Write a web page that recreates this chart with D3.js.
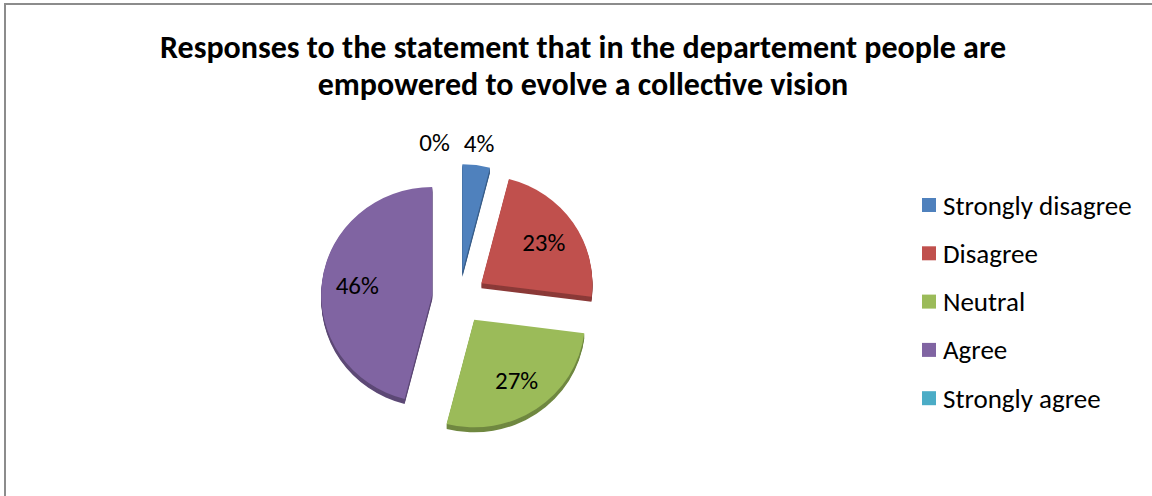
<!DOCTYPE html>
<html>
<head>
<meta charset="utf-8">
<script src="https://cdn.jsdelivr.net/npm/d3@7"></script>
<style>
  html, body { margin: 0; padding: 0; background: #fff; }
  svg { display: block; }
  text { font-family: Carlito, Lato, "Open Sans", sans-serif; fill: #000; }
</style>
</head>
<body>
<svg id="chart" width="1152" height="496"></svg>
<script>
// Survey responses (percent of respondents)
const categories = ["Strongly disagree", "Disagree", "Neutral", "Agree", "Strongly agree"];
const shares = [4, 23, 27, 46, 0];
const sliceColors = ["#4F81BD", "#C0504D", "#9BBB59", "#8064A2", "#4BACC6"];
const titleLines = [
  "Responses to the statement that in the departement people are",
  "empowered to evolve a collective vision"
];

const W = 1152, H = 496;
const svg = d3.select("#chart");

// Frame (right and bottom edges fall outside the view)
svg.append("rect")
  .attr("x", 5).attr("y", 4)
  .attr("width", W + 10).attr("height", H + 10)
  .attr("fill", "#fff")
  .attr("stroke", "#8c8c8c").attr("stroke-width", 2);

// Title
svg.append("g").selectAll("text")
  .data(titleLines)
  .join("text")
  .attr("x", 583)
  .attr("y", (d, i) => 58 + i * 37)
  .attr("text-anchor", "middle")
  .attr("font-weight", "bold")
  .attr("font-size", 32)
  .text(d => d);

// Pie geometry
const cx = 459, cy = 298, R = 111, ky = 0.97, explode = 27, depth = 5;

const data = categories.map((c, i) => ({ category: c, value: shares[i], color: sliceColors[i] }));
const pie = d3.pie().sort(null).value(d => d.value).startAngle(0).endAngle(2 * Math.PI);
const arcs = pie(data);
const arc = d3.arc().innerRadius(0).outerRadius(R);

function apex(a) {
  const mid = (a.startAngle + a.endAngle) / 2;
  return [cx + explode * Math.sin(mid), cy - explode * Math.cos(mid) * ky];
}

const slices = svg.append("g").selectAll("g.slice")
  .data(arcs.filter(a => a.value > 0))
  .join("g")
  .attr("class", "slice");

// Extruded side: stacked copies in a darker tone beneath the top face
slices.each(function (a) {
  const g = d3.select(this);
  const [ax, ay] = apex(a);
  const side = d3.color(a.data.color).darker(0.9);
  for (let k = depth; k >= 1; k--) {
    g.append("path")
      .attr("transform", `translate(${ax},${ay + k}) scale(1,${ky})`)
      .attr("d", arc(a))
      .attr("fill", side);
  }
  g.append("path")
    .attr("transform", `translate(${ax},${ay}) scale(1,${ky})`)
    .attr("d", arc(a))
    .attr("fill", a.data.color);
});

// Data labels: inside for large slices, outside for small ones
const fmt = v => `${v}%`;
const labels = arcs.map(a => {
  const mid = (a.startAngle + a.endAngle) / 2;
  const [ax, ay] = apex(a);
  const inside = a.value >= 10;
  const r = inside ? R * 0.68 : R * 1.2;
  return {
    text: fmt(a.data.value),
    x: ax + r * Math.sin(mid),
    y: ay - r * Math.cos(mid) * ky,
    inside
  };
});

const labelSel = svg.append("g").selectAll("text")
  .data(labels)
  .join("text")
  .attr("text-anchor", "middle")
  .attr("dominant-baseline", "central")
  .attr("font-size", 25)
  .text(d => d.text);

// Nudge overlapping outside labels leftwards
const outside = labels.map((d, i) => ({ d, node: labelSel.nodes()[i] })).filter(o => !o.d.inside);
outside.sort((p, q) => q.d.x - p.d.x);
for (let i = 1; i < outside.length; i++) {
  const prev = outside[i - 1], cur = outside[i];
  const wPrev = prev.node.getComputedTextLength(), wCur = cur.node.getComputedTextLength();
  const minGap = (wPrev + wCur) / 2 + 14;
  if (Math.abs(prev.d.x - cur.d.x) < minGap && Math.abs(prev.d.y - cur.d.y) < 24) {
    cur.d.x = prev.d.x - minGap;
  }
}
labelSel.attr("x", d => d.x).attr("y", d => d.y);

// Legend
const legend = svg.append("g").selectAll("g")
  .data(data)
  .join("g")
  .attr("transform", (d, i) => `translate(922,${205 + i * 48.3})`);
legend.append("rect")
  .attr("x", 0).attr("y", -7)
  .attr("width", 14).attr("height", 14)
  .attr("fill", d => d.color);
legend.append("text")
  .attr("x", 21).attr("y", 0)
  .attr("dominant-baseline", "central")
  .attr("font-size", 27)
  .text(d => d.category);
</script>
</body>
</html>
